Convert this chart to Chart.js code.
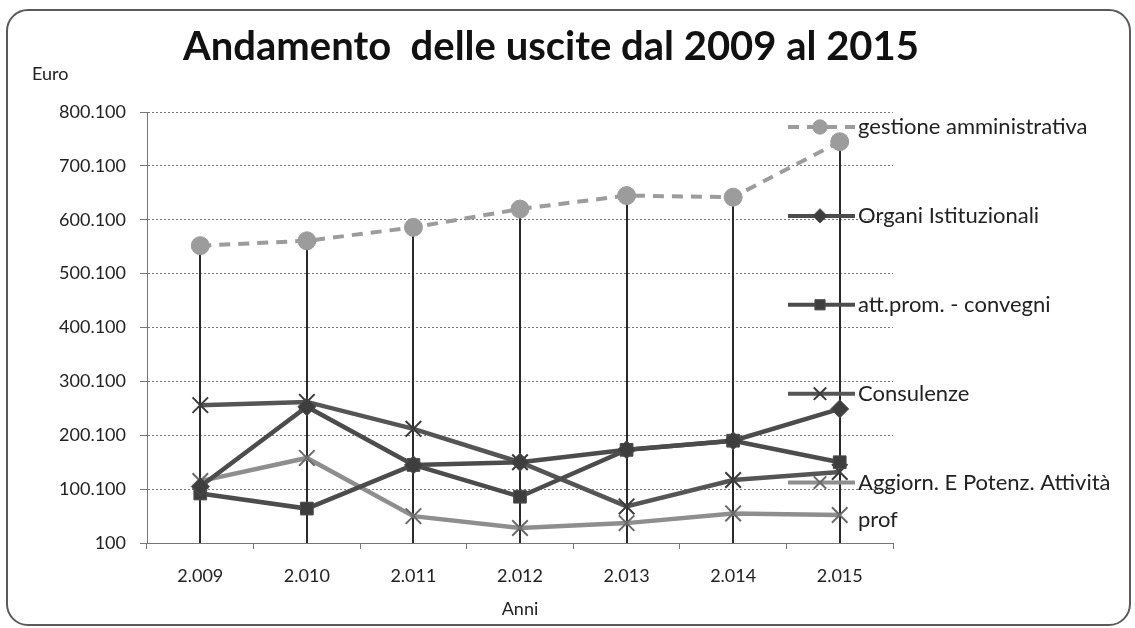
<!DOCTYPE html>
<html><head><meta charset="UTF-8">
<title>Andamento delle uscite dal 2009 al 2015</title>
<script src="https://cdn.jsdelivr.net/npm/chart.js"></script>
<style>
html,body{margin:0;padding:0;background:#fff}
#wrap{position:relative;width:1135px;height:628px;overflow:hidden}
#frame{position:absolute;left:6px;top:9px;width:1121px;height:613px;border:2px solid #5a5a5a;border-radius:22px;pointer-events:none}
canvas{position:absolute;left:0;top:0}
</style></head><body>
<div id="wrap"><canvas id="c" width="1135" height="628"></canvas><div id="frame"></div></div>
<script>
// dati (euro)
const anni = ['2.009', '2.010', '2.011', '2.012', '2.013', '2.014', '2.015'];
const yTicks = [100, 100100, 200100, 300100, 400100, 500100, 600100, 700100, 800100];
const yLabels = ['100', '100.100', '200.100', '300.100', '400.100', '500.100', '600.100', '700.100', '800.100'];

const gestione = [552000, 561000, 586000, 620000, 645000, 642000, 745000];
const organi = [105000, 253000, 145000, 150000, 173000, 190000, 249000];
const attProm = [92000, 64000, 145000, 86000, 173000, 190000, 150000];
const consulenze = [256000, 262000, 212000, 150000, 68000, 117000, 132000];
const aggiorn = [115000, 158000, 50000, 28000, 37000, 55000, 52000];

const nomi = ['gestione amministrativa', 'Organi Istituzionali', 'att.prom. - convegni', 'Consulenze', 'Aggiorn. E Potenz. Attività prof'];

const FONT = 'Lato, "Open Sans", sans-serif';

const datasets = [
  { label: nomi[0], data: gestione, borderColor: '#9c9c9c', backgroundColor: '#9c9c9c', borderWidth: 4, borderDash: [11, 8],
    pointStyle: 'circle', pointRadius: 9, pointBorderWidth: 1 },
  { label: nomi[1], data: organi, borderColor: '#4c4c4c', backgroundColor: '#3e3e3e', borderWidth: 4.5,
    pointStyle: 'rectRot', pointRadius: 9, pointBorderWidth: 1 },
  { label: nomi[2], data: attProm, borderColor: '#4c4c4c', backgroundColor: '#3e3e3e', borderWidth: 4.5,
    pointStyle: 'rect', pointRadius: 9, pointBorderWidth: 1 },
  { label: nomi[3], data: consulenze, borderColor: '#555', backgroundColor: '#555', borderWidth: 4.5,
    pointStyle: 'crossRot', pointRadius: 11, pointBorderWidth: 2, pointBorderColor: '#3a3a3a' },
  { label: nomi[4], data: aggiorn, borderColor: '#8e8e8e', backgroundColor: '#8e8e8e', borderWidth: 4.5,
    pointStyle: 'crossRot', pointRadius: 11, pointBorderWidth: 2, pointBorderColor: '#6a6a6a' }
];

// linee di proiezione (drop lines) dal punto più alto all'asse
const dropLines = {
  id: 'dropLines',
  beforeDatasetsDraw(chart) {
    const ctx = chart.ctx, area = chart.chartArea;
    const metas = chart.data.datasets.map((d, i) => chart.getDatasetMeta(i));
    ctx.save();
    ctx.strokeStyle = '#2a2a2a';
    ctx.lineWidth = 2;
    metas[0].data.forEach((p, i) => {
      const top = Math.min(...metas.map(m => m.data[i].y));
      ctx.beginPath();
      ctx.moveTo(Math.round(p.x), top);
      ctx.lineTo(Math.round(p.x), area.bottom);
      ctx.stroke();
    });
    ctx.restore();
  }
};

// titolo, etichetta "Euro" e legenda in stile Excel
const decor = {
  id: 'decor',
  afterDraw(chart) {
    const ctx = chart.ctx, area = chart.chartArea;
    ctx.save();
    ctx.fillStyle = '#111';
    ctx.textBaseline = 'alphabetic';
    ctx.textAlign = 'center';
    ctx.font = 'bold 40px ' + FONT;
    ctx.fillText('Andamento  delle uscite dal 2009 al 2015', 551, 60);
    ctx.textAlign = 'left';
    ctx.font = '18px ' + FONT;
    ctx.fillStyle = '#222';
    ctx.fillText('Euro', 32, 80);

    const step = (area.bottom - area.top) / 8;
    const x0 = area.right - 105, x1 = area.right - 38, xm = area.right - 73;
    chart.data.datasets.forEach((ds, i) => {
      const y = area.top + 15 + i * step * 1.65;
      ctx.save();
      ctx.strokeStyle = ds.borderColor;
      ctx.lineWidth = 4;
      ctx.setLineDash(ds.borderDash || []);
      ctx.beginPath(); ctx.moveTo(x0, y); ctx.lineTo(x1, y); ctx.stroke();
      ctx.setLineDash([]);
      ctx.fillStyle = ds.backgroundColor;
      ctx.strokeStyle = ds.pointBorderColor || ds.borderColor;
      ctx.lineWidth = ds.pointBorderWidth;
      Chart.helpers.drawPoint(ctx, { pointStyle: ds.pointStyle, radius: ds.pointRadius * 0.8, rotation: 0, borderWidth: ds.pointBorderWidth }, xm, y);
      ctx.restore();

      ctx.fillStyle = '#222';
      ctx.font = '22px ' + FONT;
      ctx.textBaseline = 'middle';
      // a capo se il testo supera lo spazio disponibile
      const words = ds.label.split(' ');
      let line = '', ly = y;
      words.forEach(w => {
        const t = line ? line + ' ' + w : w;
        if (ctx.measureText(t).width > 262 && line) {
          ctx.fillText(line, x1 + 3, ly);
          line = w; ly += 37;
        } else line = t;
      });
      ctx.fillText(line, x1 + 3, ly);
    });
    ctx.restore();
  }
};

new Chart(document.getElementById('c'), {
  type: 'line',
  data: { labels: anni, datasets },
  options: {
    responsive: false,
    animation: false,
    layout: { padding: { top: 112, right: 242, bottom: 0, left: 0 } },
    plugins: { legend: { display: false }, tooltip: { enabled: false }, title: { display: false } },
    elements: { line: { tension: 0 } },
    scales: {
      x: {
        offset: true,
        grid: { offset: true, drawOnChartArea: false, tickLength: 6, color: '#777' },
        border: { color: '#777', dash: [2, 2] },
        ticks: { font: { family: FONT, size: 18 }, color: '#222', padding: 16 },
        title: { display: true, text: 'Anni', font: { family: FONT, size: 18 }, color: '#222', padding: { top: 8, bottom: 8 } },
        afterFit(s) { s.height = 85; }
      },
      y: {
        min: 100, max: 800100,
        afterBuildTicks(s) { s.ticks = yTicks.map(v => ({ value: v })); },
        ticks: { callback: (v, i) => yLabels[i], font: { family: FONT, size: 18 }, color: '#222', padding: 14 },
        grid: { color: '#777', lineWidth: 1, tickLength: 7 },
        border: { color: '#777', dash: [2, 2] },
        afterFit(s) { s.width = 147; }
      }
    }
  },
  plugins: [dropLines, decor]
});
</script>
</body></html>
